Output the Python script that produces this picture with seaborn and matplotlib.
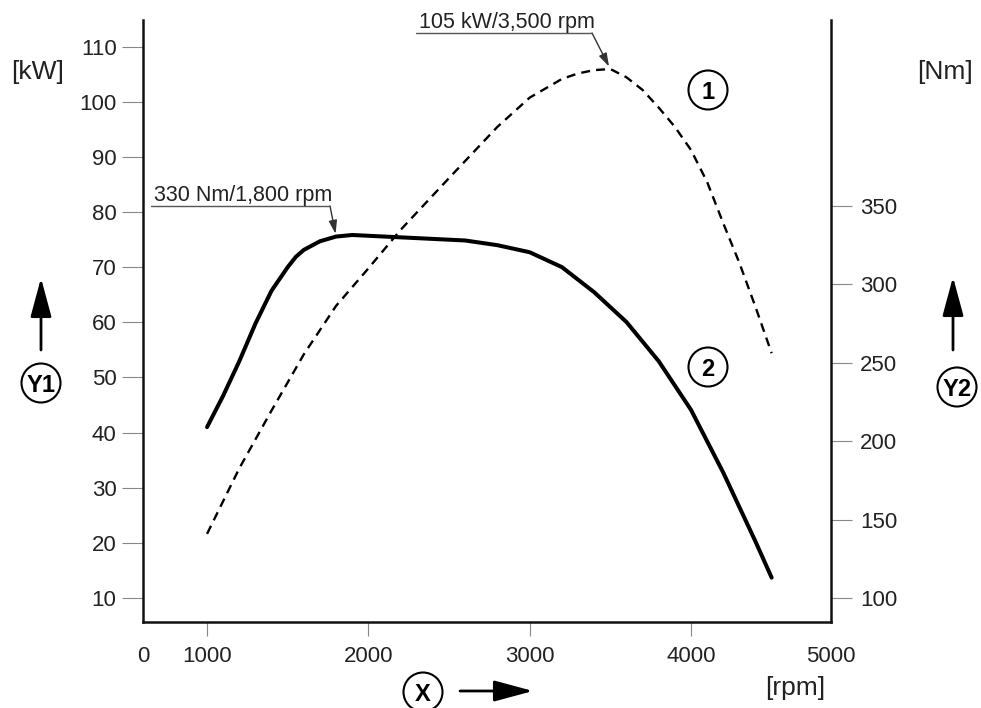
import matplotlib
matplotlib.use("Agg")
import matplotlib.pyplot as plt
from matplotlib.patches import Ellipse
from matplotlib.lines import Line2D
import seaborn as sns
import numpy as np

# power curve (1), left axis [kW]
power_rpm = [1000, 1200, 1400, 1600, 1800, 2000, 2200, 2500, 2800, 3000,
             3200, 3300, 3400, 3500, 3600, 3700, 3800, 3900, 4000, 4100,
             4200, 4300, 4400, 4500]
power_kw = [21.6, 33.5, 44.0, 54.2, 63.0, 69.8, 76.8, 86.2, 95.5, 100.8,
            104.2, 105.2, 105.8, 106.0, 104.5, 102.2, 99.0, 95.5, 91.3, 85.5,
            78.0, 70.8, 62.8, 54.4]

# torque curve (2), right axis [Nm]
torque_rpm = [1000, 1100, 1200, 1300, 1400, 1500, 1550, 1600, 1700, 1800, 1900, 2000,
              2300, 2600, 2800, 3000, 3200, 3400, 3600, 3800, 4000, 4200, 4400, 4500]
torque_nm = [209, 229, 251, 275, 296, 311, 317.5, 322, 327.5, 330.5, 331.5, 331,
             329.5, 328, 325, 320.5, 311, 295, 276, 251, 220, 180, 136, 113]

y1_ticks = [10, 20, 30, 40, 50, 60, 70, 80, 90, 100, 110]
y2_ticks = [100, 150, 200, 250, 300, 350]
x_ticks = [1000, 2000, 3000, 4000]
x_edge_labels = ["0", "5000"]

torque_peak = (1800, 330.5)
power_peak = (3500, 106.0)

sns.set_style("ticks")
plt.rcParams['font.family'] = ['Liberation Sans', 'DejaVu Sans']

W, H = 981, 708
fig = plt.figure(figsize=(W / 100, H / 100), dpi=100)


def fx(px):
    return px / W


def fy(py):
    return 1 - py / H


ax = fig.add_axes([fx(143), fy(622), (831 - 143) / W, (622 - 20) / H])
ax2 = ax.twinx()

sns.lineplot(x=power_rpm, y=power_kw, ax=ax, color='black', lw=1.7,
             linestyle=(0, (3.8, 2.6)))
sns.lineplot(x=torque_rpm, y=torque_nm, ax=ax2, color='black', lw=2.9)

x_lo, x_hi = 603, 4868
ax.set_xlim(x_lo, x_hi)
ax.set_ylim(5.6, 114.9)
ax2.set_ylim(84.7, 468.6)

ax.set_xticks([x_lo] + x_ticks + [x_hi])
ax.set_xticklabels([x_edge_labels[0]] + [str(t) for t in x_ticks] + [x_edge_labels[1]])
xt = ax.xaxis.get_major_ticks()
xt[0].tick1line.set_visible(False)
xt[-1].tick1line.set_visible(False)
ax.set_yticks(y1_ticks)
ax2.set_yticks(y2_ticks)

for a in (ax, ax2):
    a.set_xlabel('')
    a.set_ylabel('')
    a.spines['top'].set_visible(False)
ax.spines['right'].set_visible(False)
ax2.spines['left'].set_visible(False)
ax2.spines['bottom'].set_visible(False)
for s in ('left', 'bottom'):
    ax.spines[s].set_linewidth(1.8)
    ax.spines[s].set_color('#111')
ax2.spines['right'].set_linewidth(1.8)
ax2.spines['right'].set_color('#111')

ax.tick_params(axis='y', length=15, width=0.8, color='#888', pad=4,
               labelsize=16, labelcolor='#222')
ax.tick_params(axis='x', length=10, width=0.8, color='#888', pad=7,
               labelsize=16, labelcolor='#222')
ax2.tick_params(axis='y', length=15, width=0.8, color='#888', pad=6,
                labelsize=16, labelcolor='#222')

# unit labels
fig.text(fx(38), fy(72), '[kW]', ha='center', va='center', fontsize=19, color='#222')
fig.text(fx(945), fy(72), '[Nm]', ha='center', va='center', fontsize=19, color='#222')
fig.text(fx(795), fy(688), '[rpm]', ha='center', va='center', fontsize=19, color='#222')


def circled(px, py, label, d=39):
    fig.add_artist(Ellipse((fx(px), fy(py)), d / W, d / H, transform=fig.transFigure,
                           fc='white', ec='black', lw=1.5))
    fig.text(fx(px), fy(py), label, ha='center', va='center_baseline',
             fontsize=17, fontweight='bold', color='black',
             family=['Liberation Sans Narrow', 'Liberation Sans', 'DejaVu Sans'])


def big_arrow(x0, y0, x1, y1):
    ax.annotate('', xy=(fx(x1), fy(y1)), xytext=(fx(x0), fy(y0)),
                xycoords='figure fraction', textcoords='figure fraction',
                arrowprops=dict(arrowstyle='-|>,head_length=1.0,head_width=0.27',
                                mutation_scale=24, lw=2, color='black',
                                shrinkA=0, shrinkB=0))


circled(41, 383, 'Y1')
circled(957, 387, 'Y2')
circled(423, 692, 'X')
circled(708, 90, '1')
circled(708, 367, '2')
big_arrow(41, 350, 41, 278)
big_arrow(953, 350, 953, 277)
big_arrow(460, 691, 533, 691)


# peak annotations with underline and pointer
def peak_note(text, tx, ty, line_end, target, axis):
    fig.text(fx(tx), fy(ty - 5), text, ha='left', va='baseline', fontsize=15.5, color='#222')
    fig.add_artist(Line2D([fx(tx - 3), fx(line_end)], [fy(ty), fy(ty)],
                          transform=fig.transFigure, color='#555', lw=1.0))
    axis.annotate('', xy=target, xycoords='data',
                  xytext=(fx(line_end), fy(ty)), textcoords='figure fraction',
                  arrowprops=dict(arrowstyle='-|>,head_length=0.8,head_width=0.25',
                                  mutation_scale=10, lw=1.0, color='#333',
                                  shrinkA=0, shrinkB=2))


peak_note('330 Nm/1,800 rpm', 154, 206, 330, torque_peak, ax2)
peak_note('105 kW/3,500 rpm', 419, 33, 592, power_peak, ax)

fig.savefig('out.png', dpi=100)
